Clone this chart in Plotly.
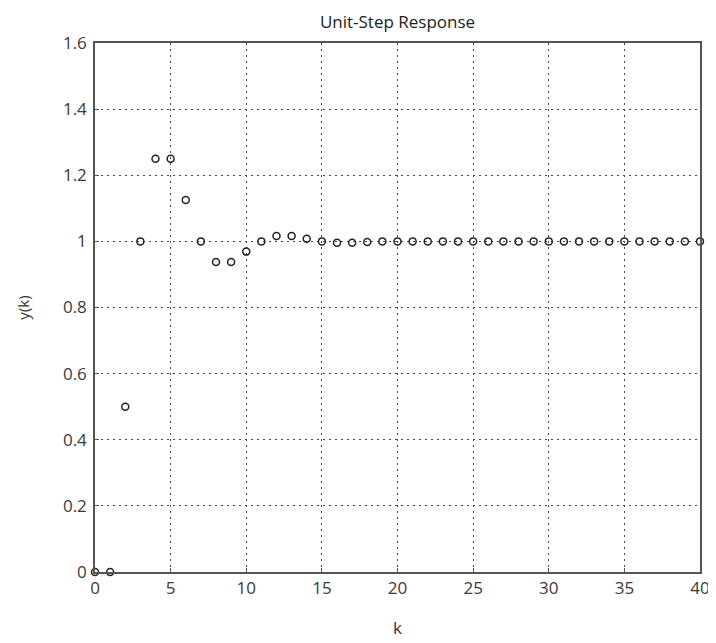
import plotly.graph_objects as go

k_values = list(range(0, 41))
y_values = [0.0, 0.0, 0.5, 1.0, 1.25, 1.25, 1.125, 1.0, 0.9375, 0.9375,
            0.969, 1.0, 1.016, 1.016, 1.008, 1.0, 0.996, 0.996, 0.998, 1.0,
            1.0, 1.0, 1.0, 1.0, 1.0, 1.0, 1.0, 1.0, 1.0, 1.0,
            1.0, 1.0, 1.0, 1.0, 1.0, 1.0, 1.0, 1.0, 1.0, 1.0, 1.0]

x_ticks = [0, 5, 10, 15, 20, 25, 30, 35, 40]
y_ticks = [0, 0.2, 0.4, 0.6, 0.8, 1.0, 1.2, 1.4, 1.6]
y_tick_labels = ["0", "0.2", "0.4", "0.6", "0.8", "1", "1.2", "1.4", "1.6"]

font_family = "Open Sans, Lato, sans-serif"

# page body has an 8px margin; figure coordinates are window coordinates minus 8
W, H = 708, 635
L, R, T, B = 87, 16, 35, 71

fig = go.Figure()
fig.add_trace(go.Scatter(
    x=k_values, y=y_values, mode="markers",
    marker=dict(symbol="circle-open", size=7, color="#222222", line=dict(width=1.5)),
    showlegend=False, cliponaxis=False,
))

axis_common = dict(
    showline=True, linecolor="#555555", linewidth=1.5, mirror=True,
    showgrid=True, gridcolor="#444444", griddash="2px,4px", gridwidth=1,
    zeroline=False, ticks="inside", ticklen=4, tickcolor="#555555",
    tickfont=dict(family=font_family, size=17, color="#3a3a3a"),
    automargin=False,
)

fig.update_layout(
    width=W, height=H,
    paper_bgcolor="white", plot_bgcolor="white",
    margin=dict(l=L, r=R, t=T, b=B),
    title=dict(text="Unit-Step Response", x=(L + W - R) / 2 / W, xanchor="center",
               y=1 - 14 / H, yanchor="middle",
               font=dict(family=font_family, size=17, color="#222222")),
    xaxis=dict(range=[0, 40], tickvals=x_ticks, ticklabelstandoff=0,
               title=dict(text="k", standoff=24,
                          font=dict(family=font_family, size=17, color="#333333")),
               **axis_common),
    yaxis=dict(range=[0, 1.6], tickvals=y_ticks, ticktext=y_tick_labels,
               ticklabelstandoff=3,
               title=dict(text="y(k)", standoff=30,
                          font=dict(family=font_family, size=15, color="#333333")),
               **axis_common),
)

fig.write_html("out.html")
